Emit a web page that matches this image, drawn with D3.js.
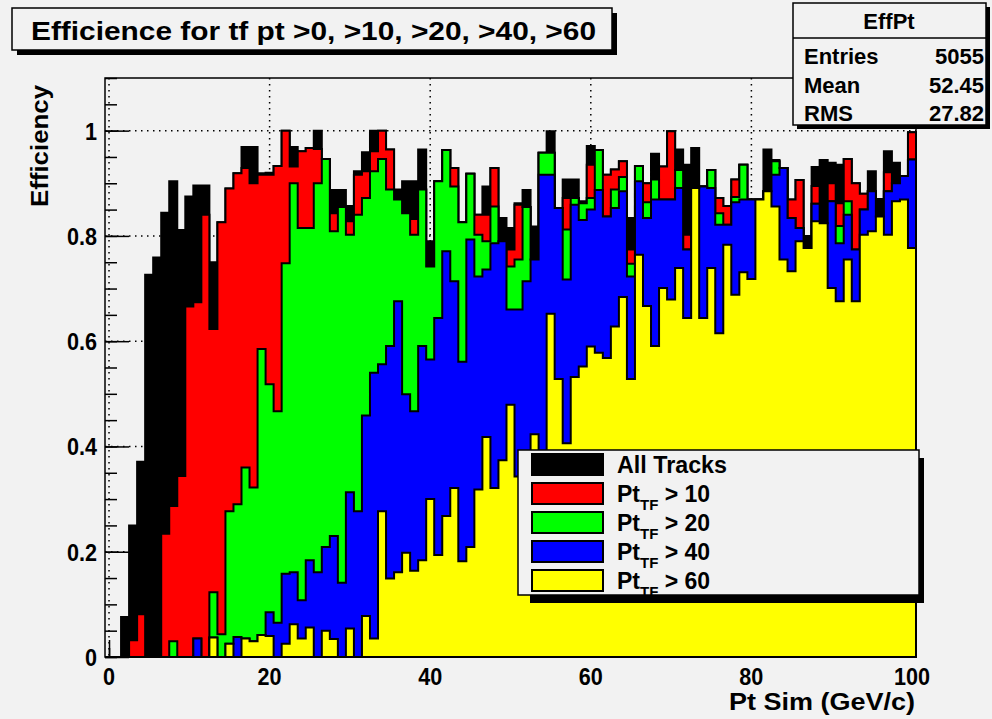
<!DOCTYPE html>
<html>
<head>
<meta charset="utf-8">
<script src="https://cdnjs.cloudflare.com/ajax/libs/d3/7.8.5/d3.min.js"></script>
<style>
  body { margin: 0; background: #f2f2f2; }
  text { font-family: "Liberation Sans", Arial, sans-serif; font-weight: bold; }
</style>
</head>
<body>
<div id="chart"></div>
<script>
// bins are 1 GeV wide, centred on 0..100
const bins = d3.range(0, 101);

// efficiency per bin
const allTracks = [0,0,.076,.25,.371,.726,.759,.844,.904,.811,
  .875,.896,.896,.75,.826,.89,.919,.969,.969,.919,
  .92,.933,1,.969,.961,.967,1,.946,.887,.887,
  .857,.923,.959,1,1,.964,.888,.904,.904,.964,
  .79,.904,.963,.929,.826,.918,.84,.894,.929,.834,
  .815,.862,.887,.818,.958,.999,.853,.907,.907,.866,
  .971,.963,.916,.926,.942,.834,.933,.90,.956,.932,
  .999,.964,.935,.967,.894,.925,.872,.857,.907,.935,
  .869,.869,.964,.944,.929,.869,.906,.80,.931,.944,
  .939,.935,.946,.9,.88,.923,.87,.961,.939,.914,.997];
const pt10 = [0,0,0,.032,.081,0,0,.234,.287,.344,
  .666,.674,.84,.623,.826,.89,.919,.929,.90,.916,
  .916,.933,1,.932,.961,.967,.965,.946,.843,.855,
  .828,.916,.923,.961,1,.964,.869,.843,.832,.888,
  .742,.904,.963,.929,.826,.918,.84,.84,.929,.79,
  .774,.859,.855,.755,.958,.958,.853,.872,.872,.862,
  .935,.963,.916,.926,.942,.774,.933,.90,.907,.932,
  .999,.925,.802,.891,.894,.925,.872,.857,.907,.935,
  .869,.869,.885,.942,.929,.869,.906,.78,.895,.824,
  .9,.862,.946,.9,.88,.885,.837,.921,.9,.914,.997];
const pt20 = [0,0,0,0,0,0,0,0,.03,0,
  0,.035,0,.123,.043,.277,.29,.36,.322,.585,
  .518,.467,.748,.90,.815,.815,.90,.946,.809,.855,
  .802,.84,.872,.923,.946,.888,.869,.843,.802,.888,
  .742,.904,.963,.894,.826,.918,.802,.79,.856,.79,
  .742,.755,.855,.755,.958,.958,.853,.812,.872,.862,
  .872,.963,.837,.888,.912,.747,.933,.864,.907,.869,
  .869,.925,.774,.891,.894,.925,.843,.821,.874,.935,
  .869,.869,.885,.942,.929,.834,.815,.78,.861,.824,
  .866,.819,.866,.774,.85,.885,.837,.885,.9,.914,.945];
const pt40 = [0,0,0,0,0,0,0,0,0,0,
  0,.035,0,.037,0,.025,.038,.035,.03,.042,
  .085,.065,.158,.161,.108,.184,.161,.209,.23,.141,
  .313,.277,.459,.54,.556,.591,.676,.499,.467,.591,
  .565,.644,.771,.714,.561,.793,.723,.736,.786,.79,
  .66,.66,.714,.755,.916,.916,.853,.717,.859,.83,
  .85,.887,.837,.853,.885,.723,.904,.834,.869,.869,
  .869,.891,.774,.891,.894,.891,.821,.821,.864,.869,
  .869,.869,.885,.916,.929,.834,.815,.78,.861,.824,
  .866,.786,.84,.774,.85,.885,.837,.885,.9,.914,.945];
const pt60 = [0,0,0,0,0,0,0,0,0,0,
  0,0,0,.037,0,.025,0,.035,.03,.042,
  .04,0,.025,.062,.035,.056,0,.05,.034,0,
  .054,0,.078,.035,.277,.149,.161,.198,.164,.184,
  .30,.194,.268,.321,.182,.209,.318,.418,.321,.374,
  .479,.343,.35,.423,.37,.652,.528,.406,.532,.552,
  .59,.578,.568,.628,.684,.528,.764,.667,.591,.701,
  .679,.739,.644,.891,.644,.739,.615,.783,.688,.731,
  .718,.869,.885,.856,.755,.733,.79,.777,.828,.824,
  .701,.676,.755,.676,.802,.809,.837,.802,.866,.869,.777];

const seriesNames = ["All Tracks", "10", "20", "40", "60"];
const seriesColors = ["#000000", "#ff0000", "#00ff00", "#0000ff", "#ffff00"];
const seriesValues = [allTracks, pt10, pt20, pt40, pt60];

const xTicks = [0, 20, 40, 60, 80, 100];
const yTicks = [0, 0.2, 0.4, 0.6, 0.8, 1];

const W = 992, H = 719;
const frame = {left: 105, right: 916, top: 78, bottom: 657};

const svg = d3.select("#chart").append("svg")
    .attr("width", W)
    .attr("height", H);

svg.append("rect").attr("width", W).attr("height", H).attr("fill", "#f2f2f2");

const x = d3.scaleLinear().domain([-0.5, 100.5]).range([frame.left, frame.right]);
const y = d3.scaleLinear().domain([0, 1.1]).range([frame.bottom, frame.top]);

// dotted grid
const grid = svg.append("g").attr("stroke", "#000").attr("stroke-width", 1.5)
    .attr("stroke-dasharray", "1.5,4.5");
grid.selectAll(".gx").data(xTicks).join("line")
    .attr("x1", d => x(d)).attr("x2", d => x(d))
    .attr("y1", frame.top).attr("y2", frame.bottom);
grid.selectAll(".gy").data(yTicks.slice(1)).join("line")
    .attr("x1", frame.left).attr("x2", frame.right)
    .attr("y1", d => y(d)).attr("y2", d => y(d));

// ticks drawn inside the frame (histograms cover them)
const yAxis = d3.axisRight(y).tickValues(d3.range(0, 1.1, 0.2)).tickSize(24).tickFormat("");
const yMinor = d3.axisRight(y).tickValues(d3.range(0, 1.101, 0.05)).tickSize(12).tickFormat("");
const xAxis = d3.axisTop(x).tickValues(xTicks).tickSize(17).tickFormat("");
const xMinor = d3.axisTop(x).tickValues(d3.range(0, 101, 5)).tickSize(9).tickFormat("");
[[yAxis, `translate(${frame.left},0)`], [yMinor, `translate(${frame.left},0)`],
 [xAxis, `translate(0,${frame.bottom})`], [xMinor, `translate(0,${frame.bottom})`]]
  .forEach(([ax, tr]) => {
    const g = svg.append("g").attr("transform", tr).call(ax);
    g.select(".domain").remove();
    g.selectAll("line").attr("stroke-width", 1.5);
  });

// step histograms, drawn in order so the tighter cuts sit on top
const stepLine = d3.line().x(d => x(d[0])).y(d => y(d[1]));
function stepPoints(vals) {
  const pts = [[-0.5, 0]];
  bins.forEach((b, i) => { pts.push([b - 0.5, vals[i]]); pts.push([b + 0.5, vals[i]]); });
  pts.push([100.5, 0]);
  return pts;
}
svg.append("g").selectAll("path")
  .data(seriesValues)
  .join("path")
    .attr("d", d => stepLine(stepPoints(d)) + "Z")
    .attr("fill", (d, i) => seriesColors[i])
    .attr("stroke", "#000")
    .attr("stroke-width", 2)
    .attr("stroke-linejoin", "miter");

// frame
svg.append("rect")
  .attr("x", frame.left).attr("y", frame.top)
  .attr("width", frame.right - frame.left).attr("height", frame.bottom - frame.top)
  .attr("fill", "none").attr("stroke", "#000").attr("stroke-width", 1.5);

// tick labels (the original font is a narrow bold face)
svg.append("g").selectAll("text").data(yTicks).join("text")
  .attr("x", 97).attr("y", d => y(d) + 9)
  .attr("text-anchor", "end").attr("font-size", 24)
  .attr("transform", "translate(9.7,0) scale(0.9,1)")
  .text(d => d3.format("~g")(d));
svg.append("g").selectAll("text").data(xTicks).join("text")
  .attr("x", d => x(d) / 0.9).attr("y", 685)
  .attr("text-anchor", "middle").attr("font-size", 24)
  .attr("transform", "scale(0.9,1)")
  .text(d => d);

// axis titles
svg.append("text")
  .attr("x", 915).attr("y", 710).attr("text-anchor", "end")
  .attr("font-size", 23).attr("textLength", 186).attr("lengthAdjust", "spacingAndGlyphs")
  .text("Pt Sim (GeV/c)");
svg.append("text")
  .attr("transform", "translate(48,207) rotate(-90)")
  .attr("font-size", 24).attr("textLength", 122).attr("lengthAdjust", "spacingAndGlyphs")
  .text("Efficiency");

// title box
svg.append("rect").attr("x", 17).attr("y", 13).attr("width", 600).attr("height", 42).attr("fill", "#000");
svg.append("rect").attr("x", 12).attr("y", 8).attr("width", 600).attr("height", 42)
  .attr("fill", "#f2f2f2").attr("stroke", "#000").attr("stroke-width", 1.5);
svg.append("text").attr("x", 31).attr("y", 40).attr("font-size", 25)
  .attr("textLength", 565).attr("lengthAdjust", "spacingAndGlyphs")
  .text("Efficience for tf pt >0, >10, >20, >40, >60");

// stats box
const stats = [["Entries", "5055"], ["Mean", "52.45"], ["RMS", "27.82"]];
svg.append("rect").attr("x", 797).attr("y", 7).attr("width", 193).attr("height", 122).attr("fill", "#000");
svg.append("rect").attr("x", 793).attr("y", 3).attr("width", 193).attr("height", 122)
  .attr("fill", "#f2f2f2").attr("stroke", "#000").attr("stroke-width", 1.5);
svg.append("line").attr("x1", 793).attr("x2", 986).attr("y1", 38).attr("y2", 38)
  .attr("stroke", "#000").attr("stroke-width", 1.5);
svg.append("text").attr("x", 889).attr("y", 29).attr("text-anchor", "middle")
  .attr("font-size", 22).text("EffPt");
stats.forEach(([k, v], i) => {
  svg.append("text").attr("x", 804).attr("y", 64 + i * 28.5).attr("font-size", 22).text(k);
  svg.append("text").attr("x", 984).attr("y", 64 + i * 28.5).attr("text-anchor", "end")
    .attr("font-size", 22).text(v);
});

// legend
const leg = {x: 518, y: 450, w: 401, h: 145};
svg.append("rect").attr("x", leg.x + 12).attr("y", leg.y + 8).attr("width", leg.w - 7).attr("height", leg.h)
  .attr("fill", "#000");
svg.append("rect").attr("x", leg.x).attr("y", leg.y).attr("width", leg.w).attr("height", leg.h)
  .attr("fill", "#f2f2f2").attr("stroke", "#000").attr("stroke-width", 1.5);
const rows = svg.append("g").selectAll("g").data(seriesNames).join("g")
  .attr("transform", (d, i) => `translate(0,${leg.y + 14 + i * 29})`);
rows.append("rect")
  .attr("x", 532).attr("y", -10).attr("width", 71).attr("height", 21)
  .attr("fill", (d, i) => seriesColors[i]).attr("stroke", "#000").attr("stroke-width", 2);
rows.each(function (d, i) {
  const t = d3.select(this).append("text").attr("x", 617).attr("y", 9).attr("font-size", 23);
  if (i === 0) {
    t.attr("textLength", 110).attr("lengthAdjust", "spacingAndGlyphs").text(d);
  } else {
    t.append("tspan").text("Pt");
    t.append("tspan").attr("font-size", 15).attr("dy", 8).text("TF");
    t.append("tspan").attr("dy", -8).text(" > " + d);
  }
});
</script>
</body>
</html>
